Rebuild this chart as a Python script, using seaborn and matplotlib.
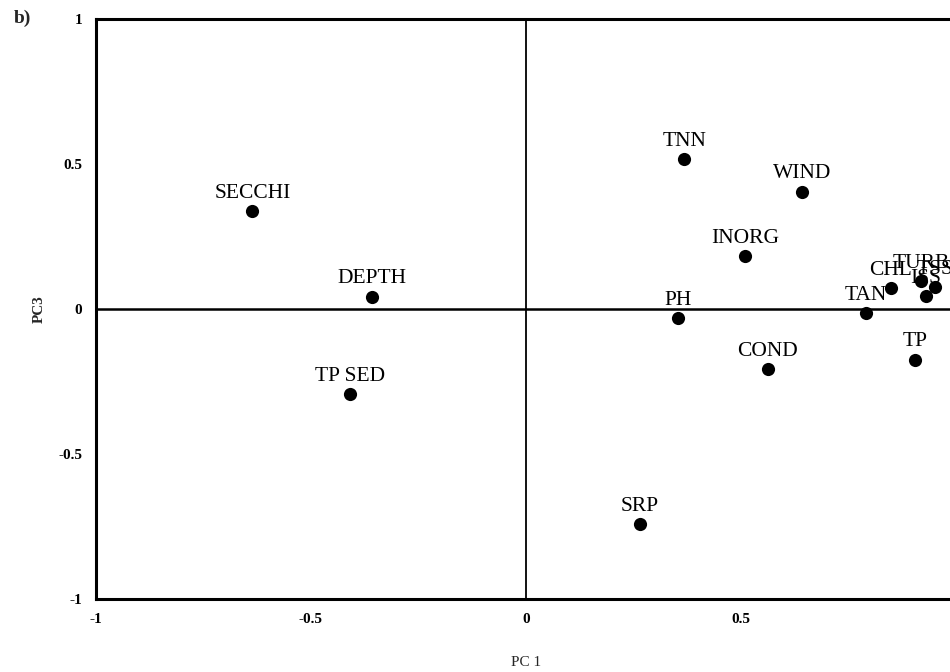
# -*- coding: utf-8 -*-
"""
PCA loading plot (panel b): PC 1 against PC3 for the limnological variables.
"""

import matplotlib
matplotlib.use('Agg')
import matplotlib.pyplot as plt
import pandas as pd
import seaborn as sns

# Variable names and their loadings
VARIABLES = ['SECCHI', 'DEPTH', 'TP SED', 'TNN', 'WIND', 'INORG', 'PH', 'COND',
             'SRP', 'TAN', 'CHL', 'TURB', 'TSS', 'ISS', 'TP']
PC1 = [-0.636, -0.358, -0.408, 0.369, 0.643, 0.510, 0.355, 0.563,
       0.266, 0.791, 0.849, 0.920, 0.952, 0.930, 0.905]
PC3 = [0.338, 0.042, -0.294, 0.515, 0.404, 0.181, -0.032, -0.207,
       -0.742, -0.015, 0.070, 0.096, 0.074, 0.044, -0.175]

X_TICKS = [-1, -0.5, 0, 0.5]
X_TICK_LABELS = ['-1', '-0.5', '0', '0.5']
Y_TICKS = [-1, -0.5, 0, 0.5, 1]
Y_TICK_LABELS = ['-1', '-0.5', '0', '0.5', '1']

SERIF = ['Liberation Serif', 'DejaVu Serif']


def plot_loadings(save_path: str) -> None:
    """Draws the scatter of loadings with labels above each point."""
    df = pd.DataFrame({'variable': VARIABLES, 'PC1': PC1, 'PC3': PC3})

    fig = plt.figure(figsize=(9.5, 6.72), dpi=100)
    ax = fig.add_axes([0.101, 0.109, 0.905, 0.863])

    # Zero reference lines
    ax.axvline(0, color='black', linewidth=1.3, zorder=1)
    ax.axhline(0, color='black', linewidth=1.8, zorder=1)

    sns.scatterplot(data=df, x='PC1', y='PC3', ax=ax, color='black',
                    s=90, edgecolor='black', linewidth=0, zorder=3, legend=False)

    for name, x, y in zip(df['variable'], df['PC1'], df['PC3']):
        ax.annotate(name, (x, y), xytext=(0, 9.5), textcoords='offset points',
                    ha='center', va='baseline', fontsize=15.5, family=SERIF,
                    color='black')

    ax.set_xlim(-1, 1)
    ax.set_ylim(-1, 1)
    ax.set_xticks(X_TICKS)
    ax.set_xticklabels(X_TICK_LABELS, fontsize=11, fontweight='bold', family=SERIF)
    ax.set_yticks(Y_TICKS)
    ax.set_yticklabels(Y_TICK_LABELS, fontsize=11, fontweight='bold', family=SERIF)
    ax.tick_params(direction='out', length=6, width=1.5, pad=4, colors='black')

    ax.set_xlabel('PC 1', fontsize=11, family=SERIF, labelpad=22)
    ax.set_ylabel('PC3', fontsize=11, fontweight='bold', family=SERIF, labelpad=9)

    for side in ['left', 'bottom', 'top']:
        ax.spines[side].set_linewidth(2.2)
        ax.spines[side].set_color('black')
    ax.spines['right'].set_visible(False)

    fig.text(0.014, 0.972, 'b)', fontsize=14, fontweight='bold', family=SERIF,
             va='center', ha='left')

    fig.savefig(save_path, dpi=100)
    plt.close(fig)


def main() -> None:
    sns.set_style('white')
    plot_loadings('out.png')


if __name__ == '__main__':
    main()
